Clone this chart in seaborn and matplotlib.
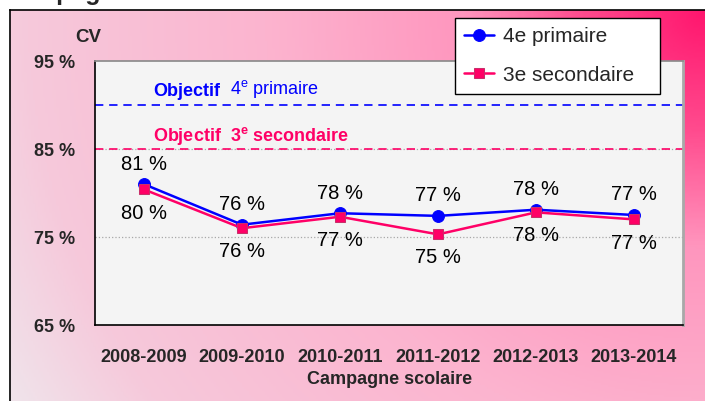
import numpy as np
import pandas as pd
import matplotlib
matplotlib.use("Agg")
import matplotlib.pyplot as plt
import seaborn as sns
from matplotlib.colors import LinearSegmentedColormap

# Values
campagnes = ["2008-2009", "2009-2010", "2010-2011", "2011-2012", "2012-2013", "2013-2014"]
cv_primaire = [81.0, 76.4, 77.7, 77.4, 78.1, 77.5]
cv_secondaire = [80.4, 76.0, 77.3, 75.3, 77.8, 77.0]
labels_primaire = ["81 %", "76 %", "78 %", "77 %", "78 %", "77 %"]
labels_secondaire = ["80 %", "76 %", "77 %", "75 %", "78 %", "77 %"]
objectif_primaire = 90
objectif_secondaire = 85
y_ticks = [65, 75, 85, 95]

BLUE = "#0000FF"
PINK = "#FF0066"

sns.set_theme(style="white")
plt.rcParams['font.family'] = ['Liberation Sans', 'DejaVu Sans']
plt.rcParams['mathtext.fontset'] = 'custom'
plt.rcParams['mathtext.rm'] = 'Liberation Sans'
plt.rcParams['mathtext.bf'] = 'Liberation Sans:bold'

W, H = 705, 401
fig = plt.figure(figsize=(W / 100, H / 100), dpi=100)
fig.patch.set_facecolor("white")

# title, cut off by the top edge as in the original
fig.text(2 / W, 1.0, "Campagne", fontsize=18, fontweight="bold", va="baseline")

# pink gradient panel (darkest at the top right corner)
bg = fig.add_axes([10 / W, 0, 1 - 10 / W, 1 - 10 / H])
gx, gy = np.meshgrid(np.linspace(0, 1, 300), np.linspace(0, 1, 200))
dist = np.sqrt(((1 - gx) * W) ** 2 + (gy * H) ** 2) / np.hypot(W, H)
stops = [(0.0, (255, 22, 110)), (0.15, (255, 75, 142)), (0.3, (255, 150, 190)),
         (0.55, (252, 180, 207)), (0.85, (246, 201, 219)), (1.0, (240, 228, 235))]
cmap = LinearSegmentedColormap.from_list("pinkbg", [(p, tuple(c / 255 for c in rgb)) for p, rgb in stops])
bg.imshow(dist, cmap=cmap, vmin=0, vmax=1, aspect="auto", extent=[0, 1, 0, 1], origin="upper")
bg.set_xticks([]); bg.set_yticks([])
for side in ["right", "bottom"]:
    bg.spines[side].set_visible(False)
for side in ["left", "top"]:
    bg.spines[side].set_color("black")
    bg.spines[side].set_linewidth(1.2)

# plot area
ax = fig.add_axes([95 / W, 1 - 325 / H, 588 / W, 264 / H])
ax.set_facecolor("#F4F4F4")

df = pd.DataFrame({"x": range(len(campagnes)), "primaire": cv_primaire, "secondaire": cv_secondaire})

for v in [75, 85]:
    ax.axhline(v, color="#A8A8A8", ls=":", lw=0.9, zorder=1)
ax.axhline(objectif_primaire, color=BLUE, ls=(0, (5, 3.5)), lw=1.2, zorder=2)
ax.axhline(objectif_secondaire, color=PINK, ls=(0, (5, 3.5)), lw=1.2, zorder=2)

sns.lineplot(data=df, x="x", y="primaire", ax=ax, color=BLUE, marker="o", markersize=8.5,
             markeredgecolor=BLUE, linewidth=1.8, label="4e primaire", zorder=3)
sns.lineplot(data=df, x="x", y="secondaire", ax=ax, color=PINK, marker="s", markersize=7.5,
             markeredgecolor="#C8306A", linewidth=1.8, label="3e secondaire", zorder=4)

for i in range(len(campagnes)):
    ax.annotate(labels_primaire[i], (i, cv_primaire[i]), xytext=(0, 14.5), textcoords="offset points",
                ha="center", va="center", fontsize=14.5, color="black")
    ax.annotate(labels_secondaire[i], (i, cv_secondaire[i]), xytext=(0, -17), textcoords="offset points",
                ha="center", va="center", fontsize=14.5, color="black")

# objective labels
t1 = ax.text(0.099, 0.885, "Objectif", transform=ax.transAxes, color=BLUE, fontsize=13,
             fontweight="bold", va="center", ha="left")
ax.annotate("  4$^{\\mathrm{e}}$ primaire", xy=(1, 0), xycoords=t1, va="bottom", ha="left",
            color=BLUE, fontsize=13)
ax.text(0.099, 0.715, "Objectif  3$^{\\mathbf{e}}$ secondaire", transform=ax.transAxes, color=PINK,
        fontsize=13, fontweight="bold", va="center", ha="left")

# axes
ax.set_xlim(-0.5, len(campagnes) - 0.5)
ax.set_ylim(y_ticks[0], y_ticks[-1])
ax.set_xticks(range(len(campagnes)))
ax.set_xticklabels(campagnes, fontweight="bold", fontsize=13)
ax.set_xticks(np.arange(-0.5, len(campagnes)), minor=True)
ax.set_yticks(y_ticks)
ax.set_yticklabels([f"{v} %" for v in y_ticks], fontweight="bold", fontsize=13)
ax.tick_params(axis="x", which="major", length=0, pad=17)
ax.tick_params(axis="x", which="minor", length=5, direction="out", color="#333333", width=1)
ax.tick_params(axis="y", length=6, direction="out", color="#555555", width=1, pad=8)
ax.set_xlabel("")
ax.set_ylabel("")
ax.spines["left"].set_color("black")
ax.spines["bottom"].set_color("black")
ax.spines["left"].set_linewidth(1.2)
ax.spines["bottom"].set_linewidth(1.2)
ax.spines["top"].set_color("#8C8C8C")
ax.spines["right"].set_color("#A8A8A8")
ax.spines["right"].set_linewidth(2)

fig.text(75 / W, 1 - 37 / H, "CV", fontsize=13.5, fontweight="bold", va="center", ha="left")
fig.text(390 / W, 1 - 380 / H, "Campagne scolaire", fontsize=13, fontweight="bold",
         va="center", ha="center")

leg = ax.legend(loc="upper left", bbox_to_anchor=(455 / W, 1 - 97 / H, 205 / W, 79 / H),
                bbox_transform=fig.transFigure, mode="expand",
                frameon=True, fancybox=False, edgecolor="black", facecolor="white", framealpha=1,
                fontsize=15, labelspacing=0.92, handlelength=1.4, handletextpad=0.45,
                borderpad=0.45, borderaxespad=0)
leg.get_frame().set_linewidth(1.0)
leg.set_zorder(10)

fig.savefig("out.png", dpi=100)
